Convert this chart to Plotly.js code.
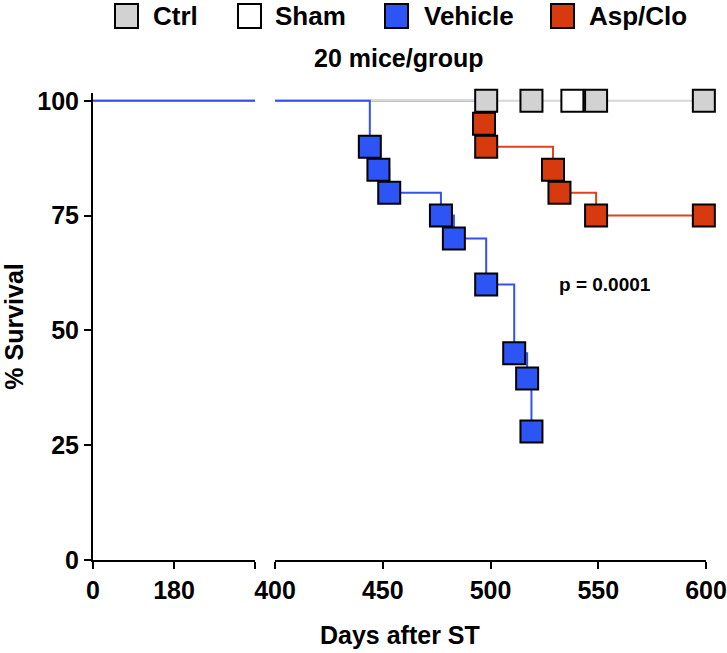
<!DOCTYPE html>
<html>
<head>
<meta charset="utf-8">
<script src="https://cdn.plot.ly/plotly-3.0.1.min.js"></script>
<style>html,body{margin:0;padding:0;background:#fff;}</style>
</head>
<body>
<div id="chart" style="width:727px;height:653px;"></div>
<script>
// ---- data ----
const groups = ["Ctrl", "Sham", "Vehicle", "Asp/Clo"];
const ctrlDays = [0, 498, 519, 549, 599];
const ctrlSurv = [100, 100, 100, 100, 100];
const shamDays = [538];
const shamSurv = [100];
const vehDays = [0, 444, 448, 453, 477, 483, 498, 511, 517, 519];
const vehSurv = [100, 90, 85, 80, 75, 70, 60, 45, 39.5, 28];
const aspDays = [0, 497, 498, 529, 532, 549, 599];
const aspSurv = [100, 95, 90, 85, 80, 75, 75];
const pText = "p = 0.0001";
const subtitle = "20 mice/group";
const xTicks1 = [0, 180, 360];
const xTickText1 = ["0", "180", ""];
const xTicks2 = [400, 450, 500, 550, 600];
const yTicks = [0, 25, 50, 75, 100];

// ---- styles ----
const FONT = "Liberation Sans, Arial, Helvetica, sans-serif";
const col = {
  ctrl: {fill: "#d2d2d2", line: "#d6d6d6"},
  sham: {fill: "#ffffff", line: "#ffffff"},
  veh: {fill: "#2d55f5", line: "#3452ee"},
  asp: {fill: "#d63a0e", line: "#e0431c"}
};
const W = 727, H = 653;
const M = {l: 93, r: 21, t: 93, b: 93};
const PW = W - M.l - M.r, PH = H - M.t - M.b;
const px = v => (v - M.l) / PW;        // pixel -> paper x
const py = v => (H - M.b - v) / PH;    // pixel -> paper y

const MS = 22;
function lineTrace(x, y, c, xa) {
  return {x: x, y: y, xaxis: xa, yaxis: "y", mode: "lines", line: {shape: "hv", color: c, width: 2},
          hoverinfo: "skip", showlegend: false};
}
function markTrace(x, y, c, xa) {
  return {x: x, y: y, xaxis: xa, yaxis: "y", mode: "markers", cliponaxis: false,
          marker: {symbol: "square", size: MS, color: c, line: {color: "#000", width: 2}},
          showlegend: false};
}
const data = [];
["x", "x2"].forEach(xa => {
  data.push(lineTrace(aspDays, aspSurv, col.asp.line, xa));
  data.push(lineTrace(ctrlDays, ctrlSurv, col.ctrl.line, xa));
  data.push(lineTrace(vehDays, vehSurv, col.veh.line, xa));
});
data.push(markTrace(shamDays, shamSurv, col.sham.fill, "x2"));
data.push(markTrace(ctrlDays.slice(1), ctrlSurv.slice(1), col.ctrl.fill, "x2"));
data.push(markTrace(aspDays.slice(1), aspSurv.slice(1), col.asp.fill, "x2"));
data.push(markTrace(vehDays.slice(1), vehSurv.slice(1), col.veh.fill, "x2"));

const tickFont = {family: FONT, size: 25, color: "#000", weight: 700};
const axBase = {showline: true, linecolor: "#000", linewidth: 2, ticks: "outside", ticklen: 7,
  tickwidth: 2, tickcolor: "#000", showgrid: false, zeroline: false, tickfont: tickFont,
  fixedrange: true, automargin: false};

// custom legend (boxes + labels)
const legBoxX = [115, 238, 385, 551];
const legTextX = [151, 273, 422, 587];
const legFills = [col.ctrl.fill, col.sham.fill, col.veh.fill, col.asp.fill];
const shapes = [];
const annotations = [];
groups.forEach((g, i) => {
  shapes.push({type: "rect", xref: "paper", yref: "paper",
    x0: px(legBoxX[i]), x1: px(legBoxX[i] + 23), y0: py(28), y1: py(4),
    fillcolor: legFills[i], line: {color: "#000", width: 2}});
  annotations.push({xref: "paper", yref: "paper", x: px(legTextX[i]), y: py(16),
    xanchor: "left", yanchor: "middle", showarrow: false, text: g,
    font: {family: FONT, size: 26, color: "#000", weight: 700}});
});
annotations.push({xref: "paper", yref: "paper", x: px(399), y: py(58), xanchor: "center", yanchor: "middle",
  showarrow: false, text: subtitle, font: {family: FONT, size: 25, color: "#000", weight: 700}});
annotations.push({xref: "x2", yref: "y", x: 531, y: 60, xanchor: "left", yanchor: "middle",
  showarrow: false, text: pText, font: {family: FONT, size: 19, color: "#000", weight: 700}});
annotations.push({xref: "paper", yref: "paper", x: 0.5, y: py(635), xanchor: "center", yanchor: "middle",
  showarrow: false, text: "Days after ST", font: {family: FONT, size: 25, color: "#000", weight: 700}});

const layout = {
  width: W, height: H, margin: M, paper_bgcolor: "#fff", plot_bgcolor: "#fff",
  showlegend: false,
  xaxis: Object.assign({}, axBase, {domain: [0, px(255)], range: [0, 360], tickmode: "array",
    tickvals: xTicks1, ticktext: xTickText1, anchor: "y"}),
  xaxis2: Object.assign({}, axBase, {domain: [px(275), 1], range: [400, 600], tickmode: "array",
    tickvals: xTicks2, anchor: "y"}),
  yaxis: Object.assign({}, axBase, {range: [0, 101.7], tickmode: "array", tickvals: yTicks,
    title: {text: "% Survival", font: {family: FONT, size: 25, color: "#000", weight: 700}, standoff: 10}}),
  shapes: shapes, annotations: annotations
};
Plotly.newPlot("chart", data, layout, {displayModeBar: false, staticPlot: true});
</script>
</body>
</html>
